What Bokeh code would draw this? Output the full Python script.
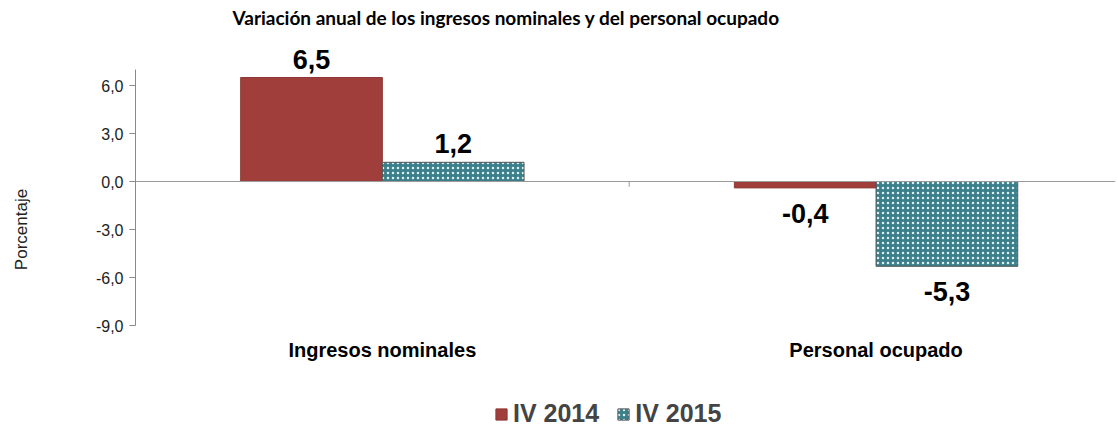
from bokeh.plotting import figure
from bokeh.models import (Range1d, FixedTicker, Span, Legend, LegendItem,
                          ColumnDataSource)
from bokeh.embed import file_html
from bokeh.resources import INLINE
from bokeh.core.properties import value

categories = ["Ingresos nominales", "Personal ocupado"]
series_names = ["IV 2014", "IV 2015"]
values_2014 = [6.5, -0.4]
values_2015 = [1.2, -5.3]
y_ticks = [-9, -6, -3, 0, 3, 6]
y_tick_labels = ["-9,0", "-6,0", "-3,0", "0,0", "3,0", "6,0"]
title_text = "Variación anual de los ingresos nominales y del personal ocupado"
y_label = "Porcentaje"

RED = "#9f3e3b"
TEAL = "#3b7f8a"
OFF = 0.1435
BW = 0.287
AXIS_MIN, AXIS_MAX = -9, 7

p = figure(width=1118, height=428, output_backend="svg", toolbar_location=None,
           x_range=Range1d(0, 1.985), y_range=Range1d(-15.4375, 9.4375),
           x_axis_location=None,
           min_border_left=135, min_border_right=3, min_border_top=30,
           min_border_bottom=0)
p.outline_line_color = None
p.grid.visible = False
p.background_fill_color = "white"

idx = list(range(len(categories)))
x14 = [i + 0.5 - OFF for i in idx]
x15 = [i + 0.5 + OFF for i in idx]

def fmt(v):
    return f"{v:.1f}".replace(".", ",")

r14 = p.vbar(x=x14, top=values_2014, bottom=0, width=BW,
             fill_color=RED, line_color="#8e3936", line_width=1)
r15 = p.vbar(x=x15, top=values_2015, bottom=0, width=BW,
             fill_color=TEAL, line_color="#555555", line_width=1,
             hatch_pattern="dot", hatch_color="#dcefF1", hatch_scale=5, hatch_weight=2)

zero = Span(location=0, dimension="width", line_color="#9a9a9a", line_width=1)
p.add_layout(zero)
p.segment(x0=[1], x1=[1], y0=[0], y1=[-0.33], line_color="#9a9a9a", line_width=1)

# data labels
xs = x14 + x15
vals = values_2014 + values_2015
pos = [i for i, v in enumerate(vals) if v >= 0]
neg = [i for i, v in enumerate(vals) if v < 0]
for sel, base, off in ((pos, "bottom", -9), (neg, "top", 16)):
    s = ColumnDataSource(dict(x=[xs[i] for i in sel], y=[vals[i] for i in sel],
                              t=[fmt(vals[i]) for i in sel]))
    p.text(x="x", y="y", text="t", source=s, text_align="center",
           text_baseline=base, y_offset=off, text_font=value("Liberation Sans"),
           text_font_style="bold", text_font_size="27px", text_color="black")

# category labels
cat_src = ColumnDataSource(dict(x=[i + 0.5 for i in idx], y=[-10.56] * len(idx), t=categories))
p.text(x="x", y="y", text="t", source=cat_src, text_align="center",
       text_baseline="middle", text_font=value("Liberation Sans"),
       text_font_style="bold", text_font_size="20px", text_color="black")

# y axis
ya = p.yaxis[0]
ya.bounds = (AXIS_MIN, AXIS_MAX)
ya.ticker = FixedTicker(ticks=y_ticks)
ya.major_label_overrides = {t: l for t, l in zip(y_ticks, y_tick_labels)}
ya.major_label_text_font = "Liberation Sans"
ya.major_label_text_font_size = "16px"
ya.major_label_text_color = "#222222"
ya.axis_line_color = "#8a8a8a"
ya.major_tick_line_color = "#8a8a8a"
ya.major_tick_out = 6
ya.major_tick_in = 0
ya.minor_tick_line_color = None
ya.major_label_standoff = 6
ya.axis_label = y_label
ya.axis_label_text_font = "Liberation Sans"
ya.axis_label_text_font_style = "normal"
ya.axis_label_text_font_size = "17px"
ya.axis_label_text_color = "#222222"
ya.axis_label_standoff = 62

# title
p.title.text = title_text
p.title.text_font = "Lato"
p.title.text_font_style = "bold"
p.title.text_font_size = "19px"
p.title.align = "left"
p.title.offset = 97
p.title.standoff = 4
p.title.text_color = "black"

legend = Legend(items=[LegendItem(label=series_names[0], renderers=[r14]),
                       LegendItem(label=series_names[1], renderers=[r15])],
                orientation="horizontal", location=(359, 0), padding=0,
                label_text_font="Liberation Sans", label_text_font_style="bold",
                label_text_font_size="25px", glyph_width=14, glyph_height=14,
                spacing=17, label_standoff=5, border_line_color=None,
                background_fill_alpha=0)
p.add_layout(legend)

open("out.html", "w").write(file_html(p, INLINE))
